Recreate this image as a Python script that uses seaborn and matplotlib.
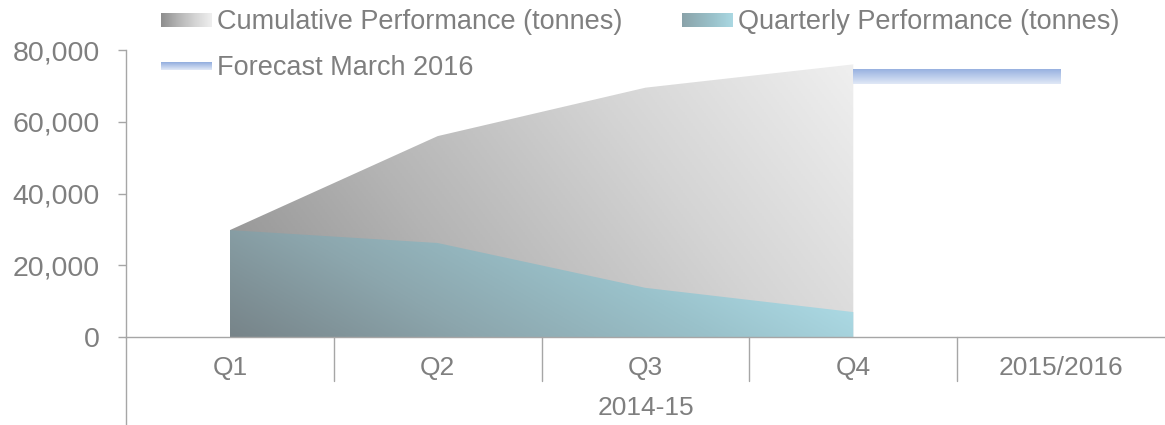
import numpy as np
import matplotlib
matplotlib.use("Agg")
import matplotlib.pyplot as plt
import seaborn as sns
from matplotlib.patches import Patch
from matplotlib.colors import LinearSegmentedColormap
from matplotlib.legend_handler import HandlerBase
from matplotlib.image import BboxImage
from matplotlib.transforms import Bbox, TransformedBbox
from matplotlib.ticker import StrMethodFormatter

# =====================================================
# DATA
# =====================================================

categories = ["Q1", "Q2", "Q3", "Q4", "2015/2016"]
quarters = ["Q1", "Q2", "Q3", "Q4"]
cumulative = [29800, 56000, 69500, 76000]
quarterly = [29800, 26200, 13700, 6950]
forecast_cats = ["Q4", "2015/2016"]
forecast = [72600, 72600]
group_label = "2014-15"
y_ticks = [0, 20000, 40000, 60000, 80000]

labels = [
    "Cumulative Performance (tonnes)",
    "Forecast March 2016",
    "Quarterly Performance (tonnes)",
]

# =====================================================
# STYLE
# =====================================================

sns.set_theme(style="white")
plt.rcParams["font.family"] = ["Liberation Sans", "DejaVu Sans"]

text_col = "#7f7f7f"
axis_col = "#a6a6a6"

cum_cmap = LinearSegmentedColormap.from_list("cum", ["#8e8e8e", "#b4b4b4", "#d4d4d4", "#efefef"])
qtr_cmap = LinearSegmentedColormap.from_list("qtr", ["#778489", "#8ca6ad", "#9ac2cb", "#b1e1ec"])
fc_cmap = LinearSegmentedColormap.from_list("fc", ["#e0e8f6", "#93aedf"])


def gradient(cmap, wx, wy, nx=300, ny=200, t0=0.0, t1=1.0):
    u = np.linspace(0, 1, nx)
    v = np.linspace(0, 1, ny)
    uu, vv = np.meshgrid(u, v)
    t = np.clip(wx * uu + wy * vv, 0, 1)
    return cmap(t0 + (t1 - t0) * t)


class GradientHandler(HandlerBase):
    def __init__(self, cmap, wx, wy, hpx, t0=0.0, t1=1.0):
        super().__init__()
        self.cmap = cmap
        self.wx = wx
        self.wy = wy
        self.hpx = hpx
        self.t0 = t0
        self.t1 = t1

    def create_artists(self, legend, orig_handle, xdescent, ydescent,
                       width, height, fontsize, trans):
        h = self.hpx * 72 / 100
        y0 = -ydescent + (height - h) / 2
        bb = TransformedBbox(Bbox.from_bounds(-xdescent, y0, width, h), trans)
        img = BboxImage(bb, origin="lower", interpolation="bilinear")
        img.set_data(gradient(self.cmap, self.wx, self.wy, 60, 20, self.t0, self.t1))
        return [img]


# =====================================================
# FIGURE
# =====================================================

fig = plt.figure(figsize=(11.65, 4.25), dpi=100)
ax = fig.add_axes([126 / 1165, 88 / 425, 1039 / 1165, 287 / 425])

x_all = np.arange(len(categories))
xq = np.array([categories.index(c) for c in quarters])
xf = np.array([categories.index(c) for c in forecast_cats])

# cumulative area
cum_poly = ax.fill_between(xq, 0, cumulative, facecolor="none", edgecolor="none")
im = ax.imshow(gradient(cum_cmap, 0.75, 0.25), extent=[xq[0], xq[-1], 0, max(cumulative)],
               origin="lower", aspect="auto", interpolation="bilinear", zorder=1)
im.set_clip_path(cum_poly.get_paths()[0], transform=ax.transData)

# quarterly area
qtr_poly = ax.fill_between(xq, 0, quarterly, facecolor="none", edgecolor="none")
im2 = ax.imshow(gradient(qtr_cmap, 0.85, 0.25), extent=[xq[0], xq[-1], 0, max(quarterly)],
                origin="lower", aspect="auto", interpolation="bilinear", zorder=2)
im2.set_clip_path(qtr_poly.get_paths()[0], transform=ax.transData)

# forecast band
half = 2100
fc = np.array(forecast)
fc_poly = ax.fill_between(xf, fc - half, fc + half, facecolor="none", edgecolor="none")
im3 = ax.imshow(gradient(fc_cmap, 0, 1, 10, 50),
                extent=[xf[0], xf[-1], fc.min() - half, fc.max() + half],
                origin="lower", aspect="auto", interpolation="bilinear", zorder=2)
im3.set_clip_path(fc_poly.get_paths()[0], transform=ax.transData)

# =====================================================
# AXES
# =====================================================

ax.set_xlim(-0.5, len(categories) - 0.5)
ax.set_ylim(0, 80000)
ax.set_xticks(x_all)
ax.set_xticklabels(categories)
ax.set_yticks(y_ticks)
ax.yaxis.set_major_formatter(StrMethodFormatter("{x:,.0f}"))

sns.despine(ax=ax, top=True, right=True)
for s in ["left", "bottom"]:
    ax.spines[s].set_color(axis_col)
    ax.spines[s].set_linewidth(1)

ax.tick_params(axis="y", left=True, length=6, width=1, color=axis_col,
               pad=13, labelcolor=text_col, labelsize=20.5)
ax.tick_params(axis="x", length=0, pad=14, labelcolor=text_col, labelsize=19)

# axis extension and category separators
ax.plot([0, 0], [0, -88 / 287], transform=ax.transAxes, clip_on=False,
        color=axis_col, lw=1)
for b in x_all[:-1] + 0.5:
    ax.plot([b, b], [0, -44 / 287], transform=ax.get_xaxis_transform(),
            clip_on=False, color=axis_col, lw=1)

ax.text(0.5, -(408 - 337) / 287, group_label, transform=ax.transAxes,
        ha="center", va="center", color=text_col, fontsize=19)

# =====================================================
# LEGEND
# =====================================================

handles = [Patch(), Patch(), Patch()]
handler_map = {
    handles[0]: GradientHandler(cum_cmap, 1, 0, 14, 0.0, 1.0),
    handles[1]: GradientHandler(fc_cmap, 0, 1, 8),
    handles[2]: GradientHandler(qtr_cmap, 1, 0, 14, 0.3, 0.9),
}

fig.legend(
    handles,
    labels,
    handler_map=handler_map,
    loc="upper left",
    bbox_to_anchor=(161 / 1165, 1 - 9 / 425),
    ncol=2,
    frameon=False,
    fontsize=19.5,
    labelcolor=text_col,
    handlelength=1.85,
    handletextpad=0.22,
    columnspacing=2.2,
    labelspacing=0.75,
    borderpad=0,
    borderaxespad=0,
)

fig.savefig("out.png", dpi=100)
